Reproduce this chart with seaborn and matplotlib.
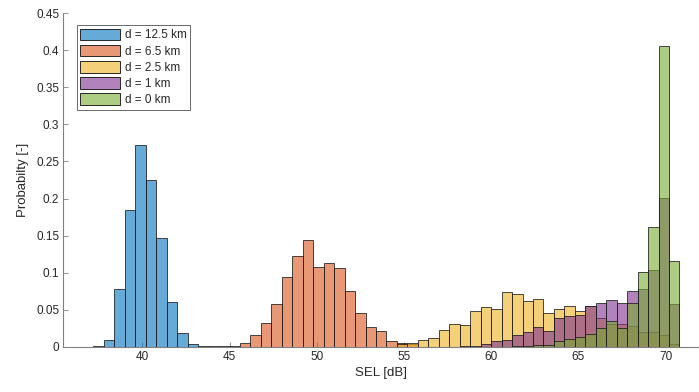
import numpy as np
import pandas as pd
import seaborn as sns
import matplotlib
matplotlib.use("Agg")
import matplotlib.pyplot as plt
from matplotlib.patches import Patch

# ---------------- data (probability per 0.6 dB bin) ----------------
bin_width = 0.6

labels = ["d = 12.5 km", "d = 6.5 km", "d = 2.5 km", "d = 1 km", "d = 0 km"]

# first bin left edge of each series
start_12_5 = 37.2
start_6_5 = 43.8
start_2_5 = 54.6
start_1 = 58.2
start_0 = 61.2

p_12_5 = [0.001, 0.009, 0.0775, 0.184, 0.2727, 0.2246, 0.1463, 0.0599,
          0.018, 0.0032, 0.0005]
p_6_5 = [0.0005, 0.0005, 0.0005, 0.0046, 0.0154, 0.0316, 0.0576, 0.0936,
         0.1229, 0.1445, 0.1076, 0.113, 0.1067, 0.0752, 0.0451, 0.0262,
         0.0212, 0.0077, 0.0054, 0.003]
p_2_5 = [0.004, 0.0046, 0.009, 0.0122, 0.022, 0.031, 0.0287, 0.0485,
         0.0534, 0.0505, 0.0738, 0.0707, 0.0621, 0.0644, 0.0459, 0.0513,
         0.0553, 0.0478, 0.0555, 0.0387, 0.03, 0.0306, 0.0279, 0.0194,
         0.0203, 0.0158, 0.0036]
p_1 = [0.0005, 0.001, 0.0032, 0.0077, 0.0095, 0.0153, 0.0194, 0.0261,
       0.0207, 0.0387, 0.041, 0.0428, 0.0556, 0.0594, 0.0626, 0.0594,
       0.0752, 0.0775, 0.1031, 0.2011, 0.0572]
p_0 = [0.0005, 0.001, 0.002, 0.0027, 0.0077, 0.0104, 0.0127, 0.0167,
       0.0248, 0.0343, 0.0248, 0.0586, 0.1012, 0.161, 0.4059, 0.1152]

x_ticks = [40, 45, 50, 55, 60, 65, 70]
y_ticks = [0, 0.05, 0.1, 0.15, 0.2, 0.25, 0.3, 0.35, 0.4, 0.45]
y_tick_labels = ["0", "0.05", "0.1", "0.15", "0.2", "0.25", "0.3", "0.35", "0.4", "0.45"]

colors = [(0.0, 0.447, 0.741), (0.85, 0.325, 0.098), (0.929, 0.694, 0.125),
          (0.494, 0.184, 0.556), (0.466, 0.674, 0.188)]

series = [(start_12_5, p_12_5), (start_6_5, p_6_5), (start_2_5, p_2_5),
          (start_1, p_1), (start_0, p_0)]

# ---------------- figure ----------------
sns.set_theme(style="white")
plt.rcParams["font.family"] = ["Liberation Sans", "DejaVu Sans"]
text_col = (0.15, 0.15, 0.15)
axis_col = (0.5, 0.5, 0.5)

fig = plt.figure(figsize=(6.99, 3.92), dpi=100)
ax = fig.add_axes([63.3 / 699, 1 - 346.7 / 392, (699 - 63.3) / 699, (346.7 - 13.3) / 392])

alpha = 0.6
for (start, probs), col, lab in zip(series, colors, labels):
    n = len(probs)
    edges = [float(start + bin_width * i) for i in range(n + 1)]
    centers = [(edges[i] + edges[i + 1]) / 2 for i in range(n)]
    df = pd.DataFrame({"SEL": centers, "p": probs})
    before = len(ax.patches)
    sns.histplot(data=df, x="SEL", weights="p", bins=edges, stat="count",
                 ax=ax, color=col, element="bars")
    for patch in ax.patches[before:]:
        patch.set_facecolor((*col, alpha))
        patch.set_edgecolor((0.1, 0.1, 0.1, 0.85))
        patch.set_linewidth(0.65)

ax.set_xlim(35.47, 71.92)
ax.set_ylim(0, 0.45)
ax.set_xticks(x_ticks)
ax.set_yticks(y_ticks)
ax.set_yticklabels(y_tick_labels)
ax.set_xlabel("SEL [dB]", fontsize=9.5, color=text_col, labelpad=3)
ax.set_ylabel("Probabilty [-]", fontsize=9.5, color=text_col, labelpad=5)

for side in ["top", "right"]:
    ax.spines[side].set_visible(False)
for side in ["left", "bottom"]:
    ax.spines[side].set_color(axis_col)
    ax.spines[side].set_linewidth(0.8)
ax.tick_params(axis="both", direction="in", length=3.5, width=0.6,
               color=axis_col, labelcolor=text_col, labelsize=8.5, pad=3,
               left=True, bottom=True)
ax.grid(False)

handles = [Patch(facecolor=(*c, alpha), edgecolor=(0.1, 0.1, 0.1), linewidth=0.65)
           for c in colors]
leg = ax.legend(handles, labels, loc="upper left", bbox_to_anchor=(0.021, 0.965),
                borderaxespad=0, fontsize=8.5, frameon=True, fancybox=False,
                handlelength=3.4, handleheight=1.15, handletextpad=0.4,
                labelspacing=0.28, borderpad=0.3)
leg.get_frame().set_edgecolor((0.15, 0.15, 0.15))
leg.get_frame().set_linewidth(0.6)
for t in leg.get_texts():
    t.set_color(text_col)

fig.savefig("out.png", dpi=100)
